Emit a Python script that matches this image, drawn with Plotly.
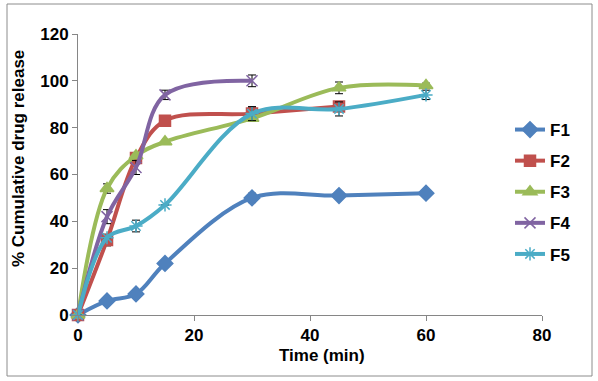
import plotly.graph_objects as go

time_f1 = [0, 5, 10, 15, 30, 45, 60]
f1 = [0, 6, 9, 22, 50, 51, 52]
f1_err = [0, 0, 1.5, 0, 2, 0, 0]

time_f2 = [0, 5, 10, 15, 30, 45]
f2 = [0, 32, 67, 83, 86, 89]
f2_err = [0, 2.5, 2, 0, 2.5, 0]

time_f3 = [0, 5, 10, 15, 30, 45, 60]
f3 = [0, 54, 68, 74, 84, 97, 98]
f3_err = [0, 2, 0, 0, 0, 2.5, 1]

time_f4 = [0, 5, 10, 15, 30]
f4 = [0, 42, 63, 94, 100]
f4_err = [0, 3, 3, 2, 2.5]

time_f5 = [0, 5, 10, 15, 30, 45, 60]
f5 = [0, 33, 38, 47, 86, 88, 94]
f5_err = [0, 0, 2.5, 0, 3, 3, 2]

x_ticks = [0, 20, 40, 60, 80]
y_ticks = [0, 20, 40, 60, 80, 100, 120]

series = [
    ("F1", time_f1, f1, f1_err, "#4F81BD", "diamond", 12),
    ("F2", time_f2, f2, f2_err, "#C0504D", "square", 11),
    ("F3", time_f3, f3, f3_err, "#9BBB59", "triangle-up", 12),
    ("F4", time_f4, f4, f4_err, "#8064A2", "x-thin-open", 11),
    ("F5", time_f5, f5, f5_err, "#4BACC6", "asterisk-open", 11),
]

FONT = "Arial, 'Liberation Sans', sans-serif"
FS = 17

fig = go.Figure()
for name, xs, ys, errs, color, sym, size in series:
    fig.add_trace(go.Scatter(
        x=xs, y=ys, name=name, legendgroup=name, mode="lines+markers",
        line=dict(color=color, width=4, shape="spline", smoothing=1),
        marker=dict(symbol=sym, size=size, color=color,
                    line=dict(color=color, width=1.5)),
        error_y=dict(type="data", array=errs, visible=True,
                     color="black", thickness=1, width=4),
        cliponaxis=False,
    ))

W, H = 598, 381
L, R, T, B = 78, 56, 34, 66
pw = W - L - R
ph = H - T - B

def px_x(p):
    return (p - L) / pw

def px_y(p):
    return (H - B - p) / ph

bold = dict(family=FONT, size=FS, color="black", weight="bold")

fig.update_layout(
    width=W, height=H,
    margin=dict(l=L, r=R, t=T, b=B),
    paper_bgcolor="white", plot_bgcolor="white",
    font=dict(family=FONT, size=FS, color="black"),
    showlegend=True,
    legend=dict(x=px_x(510), y=px_y(112), xanchor="left", yanchor="top",
                font=bold, bgcolor="rgba(0,0,0,0)", tracegroupgap=6,
                itemwidth=30),
    xaxis=dict(range=[0, 80], tickvals=x_ticks, showgrid=False, zeroline=False,
               showline=True, linecolor="#868686", linewidth=1,
               ticks="outside", ticklen=5, tickcolor="#868686",
               tickfont=bold),
    yaxis=dict(range=[0, 120], tickvals=y_ticks, showgrid=False, zeroline=False,
               showline=True, linecolor="#868686", linewidth=1,
               ticks="outside", ticklen=5, tickcolor="#868686",
               tickfont=bold),
    annotations=[
        dict(text="Time (min)", xref="paper", yref="paper",
             x=px_x(322), y=px_y(355), showarrow=False,
             xanchor="center", yanchor="middle", font=bold),
        dict(text="% Cumulative drug release", xref="paper", yref="paper",
             x=px_x(18), y=px_y(159), showarrow=False, textangle=-90,
             xanchor="center", yanchor="middle", font=bold),
    ],
    shapes=[
        dict(type="rect", xref="paper", yref="paper",
             x0=px_x(7), x1=px_x(592), y0=px_y(376), y1=px_y(4),
             line=dict(color="#8c8c8c", width=1), fillcolor="rgba(0,0,0,0)",
             layer="below"),
    ],
)

fig.write_html("out.html", config={"displayModeBar": False},
               post_script="document.body.style.margin='0';")
